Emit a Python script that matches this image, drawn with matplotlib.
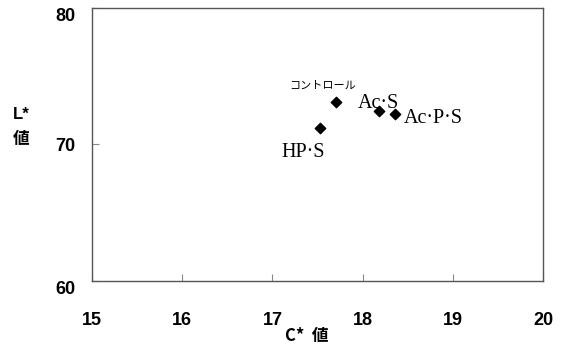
import matplotlib.pyplot as plt

# Sample names and colour values (C*, L*)
labels = ["コントロール", "Ac·S", "Ac·P·S", "HP·S"]
c_vals = [17.70, 18.18, 18.36, 17.53]
l_vals = [73.1, 72.45, 72.2, 71.2]

x_ticks = [15, 16, 17, 18, 19, 20]
y_ticks = [60, 70, 80]

jp = ["Noto Sans CJK JP", "DejaVu Sans"]
sans = ["Liberation Sans", "Noto Sans CJK JP"]
serif = ["Liberation Serif", "Noto Sans CJK JP"]

fig = plt.figure(figsize=(5.66, 3.44), dpi=100)
ax = fig.add_axes([0.1625, 0.183, 0.797, 0.794])

ax.scatter(c_vals, l_vals, marker="D", s=28, color="black", zorder=3)

# Point labels: offsets in points from each marker, text baseline
offsets = [(-9, 8), (-15, 2), (6, -6.5), (-28, -20.5)]
for name, x, y, (dx, dy) in zip(labels, c_vals, l_vals, offsets):
    if name == "コントロール":
        ax.annotate(name, (x, y), xytext=(dx, dy), textcoords="offset points",
                    fontsize=8, family=jp, ha="center", va="bottom")
    else:
        ax.annotate(name, (x, y), xytext=(dx, dy), textcoords="offset points",
                    fontsize=14.5, family=serif, ha="left", va="baseline")

ax.set_xlim(15, 20)
ax.set_ylim(60, 80)
ax.set_xticks(x_ticks)
ax.set_yticks(y_ticks)
ax.tick_params(direction="in", length=5, width=0.8, color="#888888")
ax.tick_params(axis="x", pad=22)
ax.tick_params(axis="y", pad=12)
for lab in ax.get_xticklabels() + ax.get_yticklabels():
    lab.set_family(sans)
    lab.set_fontsize(13)
    lab.set_fontweight("bold")
ylabs = ax.get_yticklabels()
ylabs[0].set_verticalalignment("top")
ylabs[2].set_verticalalignment("top")

for s in ax.spines.values():
    s.set_color("#555555")
    s.set_linewidth(1.0)

fig.text(0.037, 0.668, "L*", fontsize=12, fontweight="bold", family=sans, ha="center", va="center")
fig.text(0.037, 0.596, "値", fontsize=12, fontweight="bold", family=jp, ha="center", va="center")
fig.text(0.542, 0.022, "C*  値", fontsize=12, fontweight="bold", family=jp, ha="center", va="center")

fig.savefig("out.png", dpi=100)
